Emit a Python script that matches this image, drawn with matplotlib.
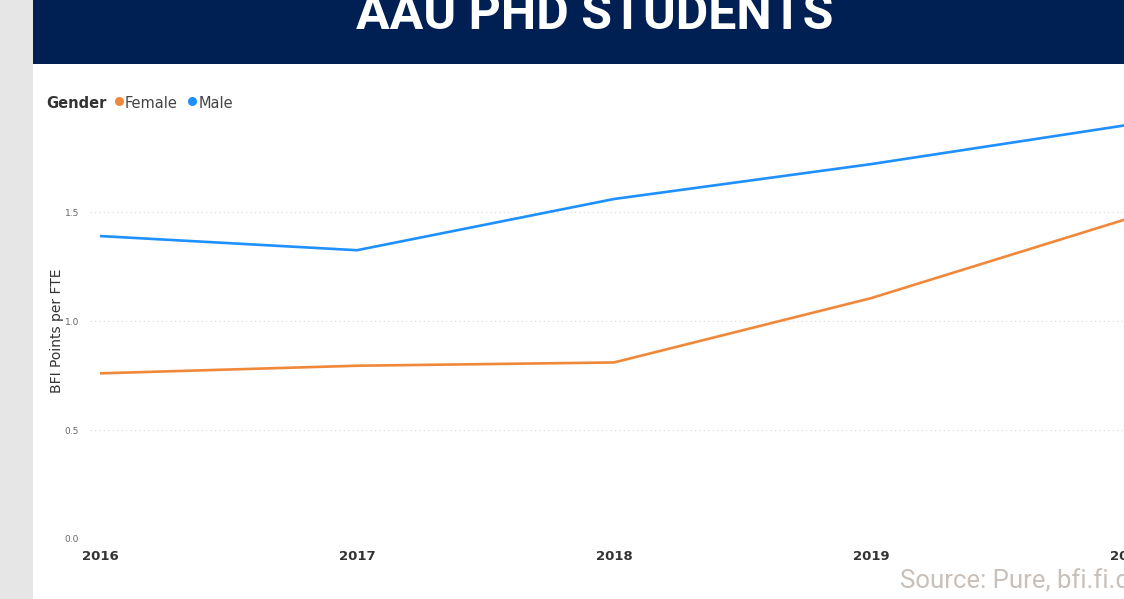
import matplotlib.pyplot as plt
from matplotlib.patches import Rectangle
from matplotlib.lines import Line2D

# data
years = [2016, 2017, 2018, 2019, 2020]
female = [0.76, 0.795, 0.81, 1.105, 1.47]
male = [1.39, 1.325, 1.56, 1.72, 1.90]
yticks = [0.0, 0.5, 1.0, 1.5]
ytick_labels = ["0.0", "0.5", "1.0", "1.5"]

c_female = "#F0883A"
c_male = "#1E90FF"

W, H = 1124, 599
fig = plt.figure(figsize=(W / 100, H / 100), dpi=100)
fig.patch.set_facecolor("white")

# grey strip on the left and navy banner on top
fig.patches.append(Rectangle((0, 0), 33 / W, 1, transform=fig.transFigure,
                             facecolor="#E6E6E6", edgecolor="none", zorder=0))
fig.patches.append(Rectangle((33 / W, (H - 64) / H), 1, 64 / H, transform=fig.transFigure,
                             facecolor="#002053", edgecolor="none", zorder=0))
fig.text(595 / W, (H - 29) / H, "AAU PHD STUDENTS", color="white", fontsize=36,
         fontweight="bold", ha="center", va="baseline", family="Roboto")

# plot area (goes past the right edge, as in the picture)
left, right = 90, 1140
bottom, top = 539, 114
ax = fig.add_axes([left / W, (H - bottom) / H, (right - left) / W, (bottom - top) / H])
ax.set_facecolor("none")
ax.plot(years, female, color=c_female, lw=1.9, solid_capstyle="butt")
ax.plot(years, male, color=c_male, lw=1.9, solid_capstyle="butt")

ax.set_xlim(2016 - 10 / 257, 2020 + 12 / 257)
ax.set_ylim(0, 1.95)
ax.set_xticks(years)
ax.set_xticklabels([str(y) for y in years], fontsize=9.5, fontweight="bold", color="#333333")
ax.set_yticks(yticks)
ax.set_yticklabels(ytick_labels, fontsize=6.5, color="#666666")
ax.tick_params(axis="both", length=0)
ax.tick_params(axis="x", pad=8)
ax.tick_params(axis="y", pad=8)
for s in ax.spines.values():
    s.set_visible(False)
ax.grid(axis="y", color="#D8D8D8", linestyle=(0, (1, 3)), lw=0.8)
ax.set_ylabel("BFI Points per FTE", fontsize=10, color="#333333")
ax.yaxis.set_label_coords(-0.025, 0.49)

# legend
fig.text(46 / W, (H - 103) / H, "Gender", fontsize=10.5, fontweight="bold",
         color="#333333", va="center")
fig.text(125 / W, (H - 103) / H, "Female", fontsize=10.5, color="#444444", va="center")
fig.text(199 / W, (H - 103) / H, "Male", fontsize=10.5, color="#444444", va="center")
fig.add_artist(Line2D([119 / W], [(H - 101) / H], marker="o", color=c_female,
                      markersize=5.5, transform=fig.transFigure))
fig.add_artist(Line2D([192 / W], [(H - 101) / H], marker="o", color=c_male,
                      markersize=5.5, transform=fig.transFigure))

# source note
fig.text(900 / W, (H - 588) / H, "Source: Pure, bfi.fi.dk", fontsize=18.5,
         color="#C9C0BA", va="baseline", ha="left", family="Roboto")

fig.savefig("out.png", dpi=100)
